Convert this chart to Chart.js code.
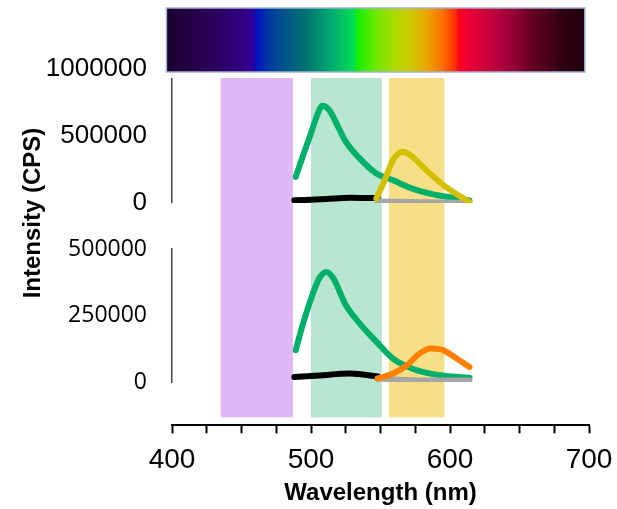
<!DOCTYPE html>
<html>
<head>
<meta charset="utf-8">
<script src="https://cdn.jsdelivr.net/npm/chart.js@4.4.0/dist/chart.umd.min.js"></script>
<style>
html, body { margin: 0; padding: 0; background: #fff; }
#wrap { width: 617px; height: 509px; }
</style>
</head>
<body>
<div id="wrap"><canvas id="chart" width="617" height="509"></canvas></div>
<script>
// filter bands (nm)
const bandStart = [435, 500, 556];
const bandEnd = [487, 551, 596];
const bandColors = ['#e0b8f8', '#b8e6d1', '#f7df88'];

// x axis ticks
const xTicks = [400, 500, 600, 700];

// top panel (CPS)
const topGreenNm = [489, 494, 500, 505, 508, 513, 520, 525, 535, 547, 559, 573, 588, 602, 614];
const topGreenVal = [194000, 344000, 520000, 670000, 725000, 695000, 558000, 457000, 332000, 220000, 169000, 107000, 64000, 39000, 19000];
const topBlackNm = [488, 511, 528, 548];
const topBlackVal = [19000, 29000, 39000, 36000];
const topGrayNm = [548, 583, 614];
const topGrayVal = [11000, 4000, 1000];
const topYellowNm = [547, 553, 559, 566, 573, 583, 597, 614];
const topYellowVal = [32000, 169000, 320000, 382000, 344000, 244000, 119000, 6000];

// bottom panel (CPS)
const botGreenNm = [489, 494, 501, 506, 511, 516, 525, 535, 547, 559, 573, 590, 614];
const botGreenVal = [120000, 215000, 328000, 391000, 414000, 391000, 290000, 221000, 152000, 88000, 50000, 28000, 16000];
const botBlackNm = [488, 506, 528, 548];
const botBlackVal = [19000, 25000, 32000, 21000];
const botGrayNm = [548, 583, 614];
const botGrayVal = [13000, 6000, 6000];
const botOrangeNm = [548, 559, 569, 578, 586, 595, 605, 614];
const botOrangeVal = [13000, 32000, 63000, 107000, 126000, 120000, 88000, 57000];

const pts = (xs, ys) => xs.map((x, i) => ({x: x, y: ys[i]}));

function line(xs, ys, color, axis, order) {
    return {
        data: pts(xs, ys),
        yAxisID: axis,
        borderColor: color,
        borderWidth: 6,
        borderCapStyle: 'round',
        borderJoinStyle: 'round',
        cubicInterpolationMode: 'monotone',
        pointRadius: 0,
        fill: false,
        order: order
    };
}

const decor = {
    id: 'decor',
    beforeDatasetsDraw(chart) {
        const {ctx, scales: {x, yTop}} = chart;
        const top = yTop.top + 9, bottom = x.top - 8;
        ctx.save();
        bandStart.forEach((s, i) => {
            const l = x.getPixelForValue(s), r = x.getPixelForValue(bandEnd[i]);
            ctx.fillStyle = bandColors[i];
            ctx.fillRect(l, top, r - l, bottom - top);
        });
        ctx.restore();
    },
    afterDraw(chart) {
        const {ctx, scales: {x, yTop}} = chart;
        // spectrum strip
        const l = x.getPixelForValue(396), r = x.getPixelForValue(697);
        const t = 8, b = 72;
        const g = ctx.createLinearGradient(l, 0, r, 0);
        [[0, '#1a0030'], [0.06, '#260045'], [0.12, '#2d0060'], [0.18, '#330080'], [0.21, '#2a00a0'],
         [0.215, '#0010c0'], [0.24, '#0035a5'], [0.30, '#006080'], [0.33, '#007070'], [0.40, '#00b070'],
         [0.45, '#00e050'], [0.455, '#10f000'], [0.50, '#70e800'], [0.55, '#b0d800'], [0.58, '#cccc00'],
         [0.62, '#e8a800'], [0.66, '#ff7000'], [0.69, '#ff3000'], [0.70, '#ff0020'], [0.72, '#ee0035'],
         [0.80, '#b00040'], [0.88, '#600020'], [0.95, '#300010'], [1, '#200010']]
            .forEach(s => g.addColorStop(s[0], s[1]));
        ctx.save();
        // small white gap under the strip, as in the original figure
        ctx.fillStyle = '#fff';
        ctx.fillRect(yTop.right - 4, b, 8, yTop.top + 9 - b);
        ctx.fillStyle = g;
        ctx.fillRect(l, t, r - l, b - t);
        ctx.strokeStyle = '#9fb3d0';
        ctx.lineWidth = 1.5;
        ctx.strokeRect(l, t, r - l, b - t);
        // y axis title
        ctx.translate(33, 213);
        ctx.rotate(-Math.PI / 2);
        ctx.fillStyle = '#000';
        ctx.font = 'bold 24px "Liberation Sans", Arial, sans-serif';
        ctx.textAlign = 'center';
        ctx.textBaseline = 'middle';
        ctx.fillText('Intensity (CPS)', 0, 0);
        ctx.restore();
    }
};

Chart.defaults.font.family = '"Liberation Sans", Arial, sans-serif';
Chart.defaults.color = '#000';

const spacer = (w, sw) => ({
    type: 'linear', axis: 'y', position: 'left', stack: 'left', stackWeight: sw, weight: w,
    display: false
});
const fixWidth = scale => { scale.width = 127; };

new Chart(document.getElementById('chart'), {
    type: 'line',
    data: {
        datasets: [
            line(topYellowNm, topYellowVal, '#d4c000', 'yTop', 0),
            line(topGrayNm, topGrayVal, '#a6a6a6', 'yTop', 1),
            line(topBlackNm, topBlackVal, '#000000', 'yTop', 2),
            line(topGreenNm, topGreenVal, '#00b06a', 'yTop', 3),
            line(botOrangeNm, botOrangeVal, '#ff8000', 'yBot', 0),
            line(botGrayNm, botGrayVal, '#a6a6a6', 'yBot', 1),
            line(botBlackNm, botBlackVal, '#000000', 'yBot', 2),
            line(botGreenNm, botGreenVal, '#00b06a', 'yBot', 3)
        ]
    },
    options: {
        responsive: false,
        animation: false,
        devicePixelRatio: 1,
        layout: {padding: {left: 45, right: 28, top: 69, bottom: 0}},
        plugins: {legend: {display: false}, tooltip: {enabled: false}},
        scales: {
            x: {
                type: 'linear', min: 400, max: 700,
                grid: {drawOnChartArea: false, tickLength: 8, tickWidth: 2, tickColor: '#000'},
                border: {color: '#000', width: 2},
                ticks: {
                    stepSize: 25, autoSkip: false, maxRotation: 0, padding: 4,
                    font: {size: 28, lineHeight: 1.63},
                    callback: v => xTicks.includes(v) ? String(v) : ''
                },
                title: {display: true, text: 'Wavelength (nm)', padding: {top: -6, bottom: 4}, font: {size: 24, weight: 'bold', lineHeight: 1}}
            },
            gap2: spacer(1, 43),
            yBot: {
                type: 'linear', position: 'left', stack: 'left', stackWeight: 132, weight: 2,
                min: 0, max: 500000,
                afterFit: fixWidth,
                grid: {display: false, drawTicks: false},
                border: {color: '#444', width: 1.5},
                ticks: {stepSize: 250000, padding: 25, font: {size: 23, family: '"Open Sans", sans-serif'}, callback: v => String(v)}
            },
            gap1: spacer(3, 46),
            yTop: {
                type: 'linear', position: 'left', stack: 'left', stackWeight: 133, weight: 4,
                min: 0, max: 1000000,
                afterFit: fixWidth,
                grid: {display: false, drawTicks: false},
                border: {color: '#444', width: 1.5},
                ticks: {stepSize: 500000, padding: 25, font: {size: 26}, callback: v => String(v)}
            }
        }
    },
    plugins: [decor]
});
</script>
</body>
</html>
